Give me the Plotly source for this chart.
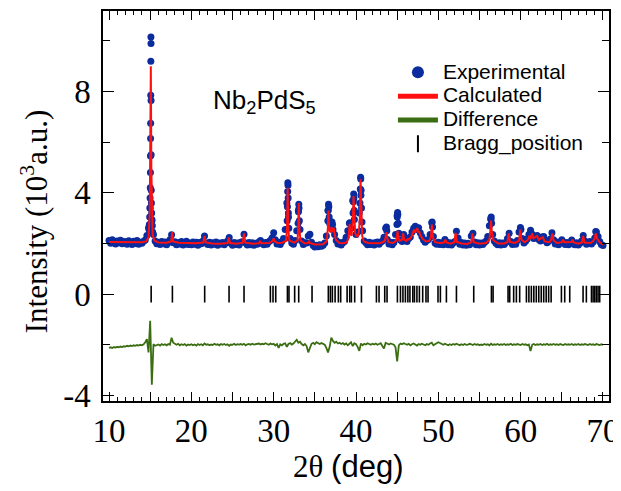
import numpy as np
import plotly.graph_objects as go

# ---------------- data (10^3 a.u.) ----------------
SCAN_START = 10.0   # deg, first point of the step scan
SCAN_STEP = 0.2     # deg

# observed intensity on the step-scan grid (10.0 ... 70.0)
obs_scan = [
    2.12, 2.01, 2.15, 2.04, 1.98, 2.10, 2.03, 2.13, 1.99, 2.08,
    2.06, 1.97, 2.11, 2.02, 1.96, 2.09, 2.00, 2.12, 1.97, 2.05,
    2.01, 2.09, 2.14, 2.32, 2.62, 3.40, 2.95, 2.35, 2.10, 1.99,
    2.05, 1.96, 2.08, 1.99, 2.06, 1.95, 2.04, 2.15, 2.34, 2.03,
    2.07, 1.95, 2.04, 1.98, 2.08, 1.94, 2.03, 2.09, 1.96, 2.02,
    1.95, 2.06, 1.97, 2.05, 1.93, 2.04, 1.99, 2.10, 2.30, 2.02,
    1.96, 2.05, 1.94, 2.03, 1.97, 2.06, 1.93, 2.02, 1.98, 2.04,
    1.95, 2.03, 2.10, 2.24, 2.01, 1.93, 2.04, 1.96, 2.02, 1.94,
    2.05, 2.07, 2.36, 2.02, 1.94, 2.04, 1.95, 2.03, 1.93, 2.01,
    1.97, 2.06, 2.12, 2.00, 1.95, 2.04, 1.97, 2.07, 2.12, 2.22,
    2.42, 2.15, 1.98, 2.04, 1.96, 2.08, 2.20, 2.55, 3.60, 3.05,
    2.20, 2.02, 1.97, 2.12, 2.50, 3.30, 2.55, 2.10, 1.96, 2.03,
    2.02, 2.30, 2.36, 2.05, 1.92, 1.86, 1.93, 1.87, 1.95, 1.89,
    1.93, 2.02, 2.30, 3.30, 2.80, 2.85, 2.55, 2.35, 2.12, 1.98,
    2.04, 1.94, 2.03, 2.08, 2.25, 2.50, 2.80, 2.60, 3.70, 2.95,
    2.35, 2.45, 3.20, 3.90, 2.50, 2.10, 2.03, 1.95, 2.05, 1.96,
    2.02, 1.94, 2.04, 2.06, 1.97, 2.05, 2.10, 2.25, 2.60, 2.16,
    1.98, 2.05, 1.95, 2.04, 2.35, 3.10, 2.40, 2.14, 2.08, 2.35,
    2.12, 2.08, 2.20, 2.26, 2.45, 2.60, 2.68, 2.55, 2.62, 2.42,
    2.28, 2.14, 2.05, 2.12, 2.16, 2.35, 2.82, 2.28, 2.02, 1.97,
    2.05, 1.96, 2.03, 1.95, 2.16, 2.06, 1.95, 2.03, 1.94, 2.02,
    2.08, 2.48, 2.22, 1.97, 2.04, 1.94, 2.02, 1.93, 2.01, 1.95,
    2.30, 2.40, 2.06, 1.95, 2.03, 1.94, 2.02, 1.96, 2.04, 2.10,
    2.28, 2.70, 2.95, 2.35, 2.10, 2.01, 1.95, 2.03, 1.94, 2.02,
    1.96, 2.04, 2.20, 2.40, 2.08, 1.96, 2.04, 1.97, 2.12, 2.45,
    2.58, 2.20, 2.02, 2.09, 2.18, 2.35, 2.52, 2.36, 2.20, 2.28,
    2.32, 2.16, 2.10, 2.26, 2.28, 2.12, 2.03, 2.09, 2.18, 2.42,
    2.15, 1.98, 2.06, 1.95, 2.04, 2.15, 2.05, 1.96, 2.04, 1.95,
    2.03, 2.14, 1.98, 1.95, 2.03, 1.94, 2.01, 2.10, 2.32, 2.10,
    1.97, 2.04, 2.08, 1.98, 2.06, 2.22, 2.45, 2.28, 2.08, 1.96,
    1.92,
]

# extra observed points measured across the sharp reflections
peak_theta = [
    14.86, 14.90, 14.94, 14.97, 14.99, 15.01, 15.03, 15.04, 15.05, 15.06, 15.07,
    15.08, 15.09, 15.10, 15.11, 15.12, 15.13, 15.15, 15.18, 15.22, 15.26, 15.30,
    31.64, 31.67, 31.70, 31.72, 31.74, 31.76, 31.79, 31.84,
    32.97, 33.01, 33.05, 33.08, 33.12,
    36.58, 36.62, 36.66, 36.70, 36.74, 36.88, 37.08, 37.15,
    39.25, 39.64, 39.68, 39.72, 39.75, 39.79,
    40.48, 40.52, 40.56, 40.58, 40.62, 40.67, 40.73,
    43.70, 43.74,
    44.97, 45.01, 45.05, 45.08, 45.12,
    49.25, 49.30, 56.36, 56.42, 56.47, 59.97, 60.03, 69.12,
]
peak_obs = [
    2.55, 2.75, 3.05, 3.40, 3.80, 4.20, 4.80, 5.45, 6.15, 6.75, 7.85,
    9.20, 10.15, 9.90, 7.65, 5.50, 4.10, 3.60, 3.20, 2.90, 2.70, 2.45,
    2.90, 3.45, 4.05, 4.40, 4.30, 3.80, 3.20, 2.60,
    2.80, 3.25, 3.55, 3.40, 2.90,
    2.90, 3.30, 3.55, 3.45, 3.05, 2.75, 2.85, 2.75,
    2.82, 3.20, 3.65, 3.95, 3.80, 3.30,
    3.60, 4.15, 4.62, 4.55, 4.10, 3.40, 2.85,
    2.65, 2.50,
    2.75, 3.05, 3.22, 3.15, 2.80,
    2.85, 2.65, 2.98, 3.05, 2.80, 2.63, 2.55, 2.47,
]

# calculated (Rietveld) profile
calc_theta = [
    10.0, 11.0, 12.0, 13.0, 14.0, 14.5, 14.8, 14.95, 15.02, 15.08, 15.14, 15.2, 15.3, 15.5,
    16.0, 17.0, 17.55, 17.68, 17.8, 18.5, 19.5, 20.5, 21.45, 21.6, 21.75, 22.5, 23.5,
    24.4, 24.55, 24.7, 25.5, 26.25, 26.4, 26.55, 27.5, 28.2, 28.35, 28.5, 29.5, 29.9,
    30.0, 30.15, 30.5, 31.0, 31.5, 31.62, 31.7, 31.78, 31.9, 32.5, 32.9, 32.98, 33.05,
    33.12, 33.25, 33.8, 34.2, 34.3, 34.4, 35.0, 36.0, 36.45, 36.58, 36.66, 36.74, 36.85,
    36.95, 37.05, 37.12, 37.2, 37.3, 37.4, 37.55, 38.0, 38.5, 38.9, 39.1, 39.22, 39.32,
    39.45, 39.62, 39.7, 39.78, 39.9, 40.05, 40.2, 40.35, 40.47, 40.55, 40.63, 40.75,
    40.95, 41.5, 42.5, 43.0, 43.5, 43.62, 43.7, 43.78, 43.95, 44.5, 44.85, 44.98, 45.05,
    45.12, 45.3, 45.6, 45.72, 45.85, 46.1, 46.3, 46.45, 46.7, 46.9, 47.05, 47.15, 47.3,
    47.45, 47.55, 47.7, 47.85, 48.1, 48.5, 48.9, 49.1, 49.22, 49.34, 49.6, 50.2, 50.7,
    50.85, 51.0, 51.5, 51.95, 52.1, 52.25, 52.8, 53.5, 54.0, 54.15, 54.3, 55.0, 55.8,
    56.2, 56.32, 56.4, 56.5, 56.7, 57.3, 58.0, 58.4, 58.55, 58.7, 59.3, 59.8, 59.95,
    60.1, 60.5, 60.9, 61.05, 61.2, 61.4, 61.55, 61.8, 62.0, 62.2, 62.5, 62.7, 62.9,
    63.5, 63.7, 63.85, 64.0, 64.4, 65.0, 65.15, 65.3, 66.2, 66.3, 66.45, 67.0, 67.45,
    67.6, 67.75, 68.5, 68.8, 69.0, 69.12, 69.3, 69.6, 70.0,
]
calc_int = [
    2.06, 2.06, 2.05, 2.05, 2.05, 2.08, 2.25, 3.20, 5.50, 9.00, 5.00, 2.90, 2.35, 2.12,
    2.04, 2.03, 2.08, 2.45, 2.08, 2.03, 2.02, 2.01, 2.04, 2.30, 2.04, 2.00, 1.99,
    2.02, 2.24, 2.02, 1.99, 2.03, 2.40, 2.03, 1.99, 2.01, 2.10, 2.01, 2.02, 2.12,
    2.20, 2.08, 2.02, 2.03, 2.10, 2.60, 4.20, 2.60, 2.12, 2.03, 2.12, 2.60, 3.60,
    2.60, 2.12, 2.00, 2.02, 2.10, 2.02, 1.96, 1.97, 2.10, 2.60, 3.30, 2.60, 2.45,
    2.50, 2.65, 2.45, 2.55, 2.62, 2.40, 2.15, 2.02, 2.01, 2.05, 2.25, 2.78, 2.40,
    2.30, 2.90, 3.87, 2.95, 2.40, 2.30, 2.28, 2.45, 3.00, 4.54, 3.00, 2.30,
    2.08, 2.02, 2.01, 2.02, 2.10, 2.30, 2.45, 2.25, 2.05, 2.02, 2.10, 2.30, 2.50,
    2.25, 2.10, 2.15, 2.40, 2.15, 2.10, 2.18, 2.15, 2.25, 2.40, 2.55, 2.42, 2.50,
    2.60, 2.45, 2.45, 2.30, 2.18, 2.08, 2.10, 2.25, 2.75, 2.25, 2.05, 2.02, 2.04,
    2.15, 2.04, 1.99, 2.05, 2.42, 2.06, 2.00, 1.98, 2.05, 2.40, 2.05, 1.99, 2.02,
    2.15, 2.50, 2.90, 2.45, 2.12, 2.00, 2.00, 2.06, 2.40, 2.06, 2.02, 2.10, 2.55,
    2.15, 2.05, 2.15, 2.30, 2.18, 2.40, 2.20, 2.25, 2.30, 2.15, 2.22, 2.25, 2.08,
    2.05, 2.15, 2.40, 2.12, 2.02, 2.05, 2.15, 2.05, 2.06, 2.15, 2.04, 1.99, 2.05,
    2.30, 2.04, 2.02, 2.10, 2.20, 2.40, 2.18, 2.05, 1.95,
]

# difference curve (obs - calc, plotted with its offset) on the scan grid
diff_scan = [
    -2.12, -2.10, -2.13, -2.09, -2.11, -2.08, -2.10, -2.07, -2.09, -2.06,
    -2.07, -2.04, -2.06, -2.03, -2.05, -2.02, -2.04, -2.01, -2.03, -2.00,
    -2.02, -1.98, -1.90, -1.78, -2.30, -1.05, -3.58, -1.98, -2.04, -2.00,
    -1.99, -2.03, -1.97, -2.01, -1.98, -2.02, -1.97, -2.00, -1.72, -1.92,
    -1.97, -2.00, -1.96, -2.02, -1.98, -2.01, -1.97, -2.03, -1.99, -2.01,
    -1.98, -2.02, -1.99, -2.03, -1.97, -2.01, -1.98, -2.02, -1.95, -2.00,
    -1.98, -2.02, -1.99, -2.01, -1.96, -2.00, -1.98, -2.02, -1.97, -2.00,
    -1.97, -2.01, -1.98, -2.04, -1.99, -2.00, -1.96, -2.01, -1.98, -1.99,
    -1.97, -2.00, -1.96, -2.02, -1.98, -1.97, -2.00, -1.96, -1.99, -1.97,
    -1.98, -1.95, -1.99, -1.96, -1.98, -1.94, -1.97, -2.00, -1.95, -1.98,
    -1.96, -2.03, -1.97, -2.12, -1.98, -2.02, -1.96, -1.94, -2.08, -1.97,
    -1.93, -1.99, -1.95, -1.86, -1.80, -1.92, -1.88, -1.97, -2.02, -1.97,
    -2.05, -2.30, -2.10, -1.96, -1.92, -1.98, -1.90, -1.94, -1.97, -1.93,
    -1.96, -2.00, -2.12, -2.30, -2.08, -1.72, -1.85, -1.92, -1.88, -1.95,
    -1.92, -1.97, -1.93, -1.99, -1.95, -2.02, -1.96, -1.90, -2.05, -1.94,
    -1.98, -2.08, -2.24, -1.95, -2.02, -1.96, -1.99, -1.94, -1.97, -2.00,
    -1.96, -1.99, -1.95, -2.00, -1.97, -1.94, -2.05, -2.15, -1.92, -1.96,
    -1.99, -1.95, -1.98, -2.00, -2.10, -2.66, -2.02, -1.95, -1.98, -1.94,
    -1.97, -2.00, -1.96, -2.02, -1.98, -1.95, -1.99, -2.03, -1.97, -2.00,
    -1.96, -1.99, -2.02, -1.97, -2.00, -1.95, -1.92, -2.02, -1.98, -1.96,
    -1.90, -1.93, -1.97, -2.00, -1.96, -1.99, -2.02, -1.98, -2.01, -1.97,
    -2.00, -1.96, -1.99, -2.02, -1.98, -2.01, -1.97, -2.00, -1.99, -1.96,
    -1.98, -2.01, -1.97, -2.00, -1.98, -2.02, -1.99, -2.01, -1.97, -2.00,
    -1.98, -2.02, -1.96, -2.01, -1.98, -2.00, -1.97, -2.01, -1.98, -2.00,
    -1.97, -2.01, -1.98, -2.00, -1.96, -2.01, -1.98, -2.00, -1.97, -1.99,
    -2.01, -1.97, -2.00, -1.98, -2.02, -1.99, -2.25, -2.00, -1.97, -2.01,
    -1.98, -2.00, -1.97, -2.01, -1.98, -2.00, -1.96, -2.01, -1.98, -2.00,
    -1.97, -2.00, -1.98, -2.01, -1.97, -1.99, -2.01, -1.97, -2.00, -1.98,
    -2.00, -1.97, -2.01, -1.98, -2.00, -1.97, -2.01, -1.98, -2.00, -1.97,
    -1.99, -2.01, -1.97, -2.00, -1.98, -2.01, -1.97, -1.99, -2.01, -1.98,
    -2.00,
]

# Bragg reflection positions (deg)
bragg_theta = [
    15.12, 17.70, 21.62, 24.58, 26.40, 29.60, 29.92, 30.25, 31.67, 31.86, 32.55,
    33.04, 34.66, 36.64, 36.89, 37.13, 37.46, 37.86, 38.14, 38.92, 39.24, 39.44,
    39.84, 40.66, 42.48, 42.80, 43.49, 43.77, 45.03, 45.40, 45.70, 46.00, 46.30,
    46.55, 46.90, 47.10, 47.40, 47.70, 48.10, 48.50, 48.75, 49.96, 50.25, 50.98,
    52.20, 54.30, 56.45, 56.65, 58.47, 58.67, 59.15, 59.48, 59.88, 60.70, 61.00,
    61.30, 61.60, 61.90, 62.20, 62.50, 62.80, 63.10, 63.40, 63.70, 64.95, 65.35,
    65.96, 67.58, 67.98, 68.60, 68.80, 69.00, 69.20, 69.40, 69.60,
]
BRAGG_LEVEL = 0.0

x_ticks = [10, 15, 20, 25, 30, 35, 40, 45, 50, 55, 60, 65, 70]
x_tick_text = ["10", "", "20", "", "30", "", "40", "", "50", "", "60", "", "70"]
y_ticks = [-4, 0, 4, 8]
y_tick_text = ["-4", "0", "4", "8"]

# ---------------- figure ----------------
scan_theta = SCAN_START + SCAN_STEP * np.arange(len(obs_scan))
obs_theta = np.concatenate([scan_theta, np.array(peak_theta)])
obs_int = np.concatenate([np.array(obs_scan), np.array(peak_obs)])

SERIF = "Liberation Serif"
SANS = "Liberation Sans"


def legend_label(text):
    return '<span style="font-size:21px">%s</span>' % text


fig = go.Figure()
fig.add_trace(go.Scatter(
    x=obs_theta, y=obs_int, mode="markers", name=legend_label("Experimental"),
    marker=dict(color="#0a2c9e", size=7, line=dict(width=0)),
))
fig.add_trace(go.Scatter(
    x=calc_theta, y=calc_int, mode="lines", name=legend_label("Calculated"),
    line=dict(color="#ff1010", width=2),
))
fig.add_trace(go.Scatter(
    x=scan_theta, y=diff_scan, mode="lines", name=legend_label("Difference"),
    line=dict(color="#3b6e12", width=1.8),
))
fig.add_trace(go.Scatter(
    x=bragg_theta, y=[BRAGG_LEVEL] * len(bragg_theta), mode="markers",
    name=legend_label("Bragg_position"),
    marker=dict(symbol="line-ns-open", size=12, color="black",
                line=dict(width=1.6, color="black")),
))

fig.add_annotation(
    x=28.9, y=7.6, xref="x", yref="y",
    text="Nb<sub>2</sub>PdS<sub>5</sub>", showarrow=False,
    font=dict(family=SANS, size=26, color="black"),
)

fig.update_layout(
    width=613, height=483,
    margin=dict(l=95, r=12, t=1, b=90),
    paper_bgcolor="white", plot_bgcolor="white",
    font=dict(family=SERIF, color="black"),
    showlegend=True,
    legend=dict(
        x=0.573, y=0.886, xanchor="left", yanchor="top",
        font=dict(family=SANS, size=16, color="black"),
        bgcolor="rgba(0,0,0,0)", itemwidth=40, itemsizing="constant",
        tracegroupgap=0,
    ),
    xaxis=dict(
        range=[9.27, 70.73], showgrid=False, zeroline=False,
        showline=True, linecolor="black", linewidth=1.5, mirror="allticks",
        ticks="inside", ticklen=9, tickwidth=1.3, tickcolor="black",
        tickmode="array", tickvals=x_ticks, ticktext=x_tick_text,
        tickfont=dict(family=SERIF, size=33),
        ticklabelstandoff=0,
        minor=dict(ticks="inside", dtick=1, tick0=10, ticklen=4,
                   tickwidth=1.2, tickcolor="black", showgrid=False),
        title=dict(text='2θ <span style="font-family:Liberation Sans">(deg)</span>&nbsp;&nbsp;',
                   font=dict(family=SERIF, size=31), standoff=6),
    ),
    yaxis=dict(
        range=[-4.22, 11.18], showgrid=False, zeroline=False,
        showline=True, linecolor="black", linewidth=1.5, mirror="allticks",
        ticks="inside", ticklen=11, tickwidth=1.3, tickcolor="black",
        tickmode="array", tickvals=y_ticks, ticktext=y_tick_text,
        tickfont=dict(family=SERIF, size=33),
        ticklabelstandoff=4,
        minor=dict(ticks="inside", dtick=2, tick0=0, ticklen=7,
                   tickwidth=1.2, tickcolor="black", showgrid=False),
        title=dict(text="Intensity (10<sup>3</sup>a.u.)&nbsp;&nbsp;&nbsp;&nbsp;",
                   font=dict(family=SERIF, size=31), standoff=6),
    ),
)

fig.write_html("out.html")
